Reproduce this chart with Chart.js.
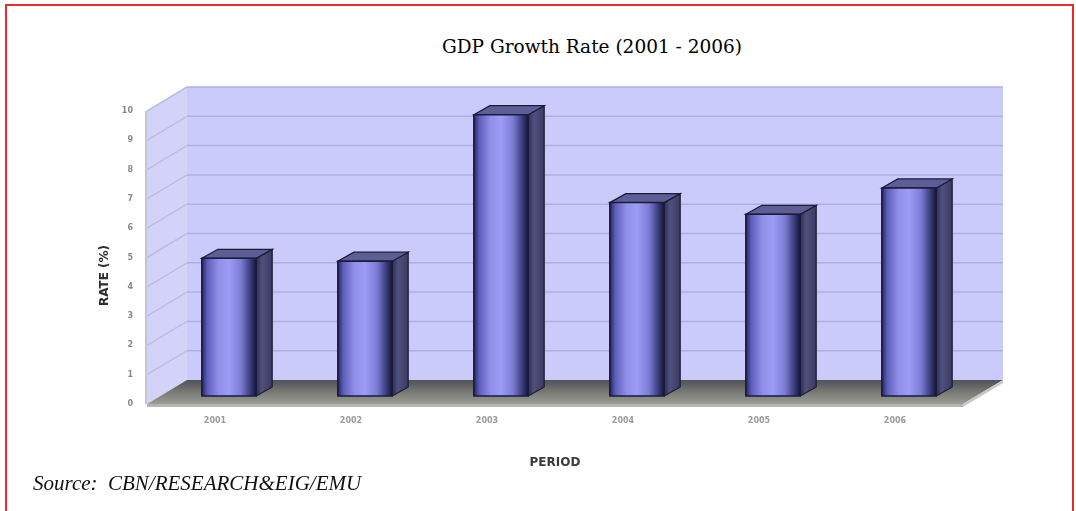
<!DOCTYPE html>
<html lang="en">
<head>
<meta charset="UTF-8">
<title>GDP Growth Rate (2001 - 2006)</title>
<script src="https://cdn.jsdelivr.net/npm/chart.js"></script>
<style>
    body {
        margin: 0;
        background: #fff;
        width: 1076px;
        height: 511px;
        overflow: hidden;
        position: relative;
    }
    .frame {
        position: absolute;
        left: 5px;
        top: 4px;
        width: 1065px;
        height: 620px;
        border: 2px solid #f02a2a;
        border-bottom: none;
    }
    .chart-box {
        position: absolute;
        left: 0;
        top: 0;
        width: 1076px;
        height: 511px;
    }
    h1.chart-title {
        position: absolute;
        left: 342px;
        width: 500px;
        top: 36px;
        margin: 0;
        text-align: center;
        font: normal 18.5px "DejaVu Serif", serif;
        color: #000;
    }
    .source {
        position: absolute;
        left: 33px;
        top: 471px;
        font: italic 21px "Liberation Serif", serif;
        color: #111;
    }
</style>
</head>
<body>
<div class="frame"></div>
<h1 class="chart-title">GDP Growth Rate (2001 - 2006)</h1>
<div class="chart-box"><canvas id="gdp-chart" width="1076" height="511"></canvas></div>
<div class="source">Source:&nbsp; CBN/RESEARCH&amp;EIG/EMU</div>

<script>
    const periods = ['2001', '2002', '2003', '2004', '2005', '2006'];
    const growthRate = [4.7, 4.6, 9.6, 6.6, 6.2, 7.1];
    const rateTicks = [0, 1, 2, 3, 4, 5, 6, 7, 8, 9, 10];

    // depth of the 3D box: back wall offset, bar front offset, bar depth
    const WALL_DX = 40, WALL_DY = -24;
    const BAR_OX = 14, BAR_OY = -8;
    const BAR_DX = 16, BAR_DY = -9;

    function poly(ctx, pts, fill, stroke, lw) {
        ctx.beginPath();
        ctx.moveTo(pts[0][0], pts[0][1]);
        for (let i = 1; i < pts.length; i++) ctx.lineTo(pts[i][0], pts[i][1]);
        ctx.closePath();
        if (fill) { ctx.fillStyle = fill; ctx.fill(); }
        if (stroke) { ctx.strokeStyle = stroke; ctx.lineWidth = lw || 1; ctx.stroke(); }
    }

    const box3d = {
        id: 'box3d',
        beforeDatasetsDraw(chart) {
            const {ctx, chartArea: a, scales: {y}} = chart;
            const y0 = y.getPixelForValue(0);
            const yTop = y.getPixelForValue(10);
            ctx.save();

            // back wall
            poly(ctx, [[a.left + WALL_DX, yTop + WALL_DY], [a.right + WALL_DX, yTop + WALL_DY],
                [a.right + WALL_DX, y0 + WALL_DY], [a.left + WALL_DX, y0 + WALL_DY]], '#cbcbfb');

            // left side wall
            poly(ctx, [[a.left, yTop], [a.left + WALL_DX, yTop + WALL_DY],
                [a.left + WALL_DX, y0 + WALL_DY], [a.left, y0]], '#d3d3fa');

            // grid lines on both walls
            ctx.lineWidth = 1.5;
            rateTicks.forEach(v => {
                if (v === 0) return;
                const py = y.getPixelForValue(v);
                ctx.strokeStyle = '#b0b0e0';
                ctx.beginPath();
                ctx.moveTo(a.left + WALL_DX, py + WALL_DY);
                ctx.lineTo(a.right + WALL_DX, py + WALL_DY);
                ctx.stroke();
                ctx.strokeStyle = '#bcbce6';
                ctx.beginPath();
                ctx.moveTo(a.left, py);
                ctx.lineTo(a.left + WALL_DX, py + WALL_DY);
                ctx.stroke();
            });

            // front edge of the side wall
            ctx.strokeStyle = '#c4c4d4';
            ctx.lineWidth = 2;
            ctx.beginPath();
            ctx.moveTo(a.left - 1, yTop);
            ctx.lineTo(a.left - 1, y0);
            ctx.stroke();

            // floor
            const fg = ctx.createLinearGradient(0, y0 + WALL_DY, 0, y0);
            fg.addColorStop(0, '#505058');
            fg.addColorStop(0.5, '#7a7a74');
            fg.addColorStop(1, '#9c9c98');
            poly(ctx, [[a.left, y0], [a.right, y0], [a.right + WALL_DX, y0 + WALL_DY],
                [a.left + WALL_DX, y0 + WALL_DY]], fg);
            poly(ctx, [[a.left, y0], [a.right, y0], [a.right, y0 + 3], [a.left, y0 + 3]], '#b4b4b0');
            poly(ctx, [[a.right, y0], [a.right + WALL_DX, y0 + WALL_DY],
                [a.right + WALL_DX, y0 + WALL_DY + 3], [a.right, y0 + 3]], '#c8c8c4');
            ctx.restore();
        },
        afterDatasetsDraw(chart) {
            const {ctx} = chart;
            const meta = chart.getDatasetMeta(0);
            ctx.save();
            meta.data.forEach(bar => {
                const {x, y: top, base, width} = bar.getProps(['x', 'y', 'base', 'width'], true);
                const l = x - width / 2 + BAR_OX, r = x + width / 2 + BAR_OX;
                const t = top + BAR_OY, b = base + BAR_OY;

                // side
                const sg = ctx.createLinearGradient(r, 0, r + BAR_DX, 0);
                sg.addColorStop(0, '#2c2c52');
                sg.addColorStop(0.35, '#50507e');
                sg.addColorStop(1, '#3a3a62');
                poly(ctx, [[r, t], [r + BAR_DX, t + BAR_DY], [r + BAR_DX, b + BAR_DY], [r, b]], sg, '#1b1b38', 1.2);

                // top
                poly(ctx, [[l, t], [l + BAR_DX, t + BAR_DY], [r + BAR_DX, t + BAR_DY], [r, t]], '#5e5e96', '#1b1b38', 1.2);

                // front
                const g = ctx.createLinearGradient(l, 0, r, 0);
                g.addColorStop(0, '#25255c');
                g.addColorStop(0.1, '#5d5dbb');
                g.addColorStop(0.3, '#8f8fe8');
                g.addColorStop(0.5, '#9c9cf8');
                g.addColorStop(0.72, '#7c7cd4');
                g.addColorStop(0.85, '#4a4a92');
                g.addColorStop(1, '#15153a');
                poly(ctx, [[l, t], [r, t], [r, b], [l, b]], g, '#1b1b3c', 1.5);
            });
            ctx.restore();
        },
        afterDraw(chart) {
            // rotated value-axis caption, sitting a little below the axis middle
            const {ctx, chartArea: a} = chart;
            ctx.save();
            ctx.translate(105, (a.top + a.bottom) / 2 + 18);
            ctx.rotate(-Math.PI / 2);
            ctx.font = 'bold 12px "DejaVu Sans"';
            ctx.fillStyle = '#2e2e2e';
            ctx.textAlign = 'center';
            ctx.textBaseline = 'middle';
            ctx.fillText('RATE (%)', 0, 0);
            ctx.restore();
        }
    };

    new Chart(document.getElementById('gdp-chart'), {
        type: 'bar',
        data: {
            labels: periods,
            datasets: [{
                label: 'GDP Growth Rate',
                data: growthRate,
                backgroundColor: 'rgba(0,0,0,0)',
                borderWidth: 0,
                barPercentage: 0.4,
                categoryPercentage: 1
            }]
        },
        options: {
            responsive: false,
            animation: false,
            layout: { padding: { left: 90, right: 113, top: 111, bottom: 30 } },
            plugins: {
                legend: { display: false },
                title: { display: false },
                tooltip: { enabled: false }
            },
            scales: {
                x: {
                    grid: { display: false, drawTicks: false },
                    border: { display: false },
                    ticks: { padding: 12, color: '#9a9a9a', font: { family: 'DejaVu Sans', size: 8, weight: 'bold' } },
                    title: {
                        display: true,
                        text: 'PERIOD',
                        color: '#3a3a3a',
                        padding: { top: 0, bottom: 11 },
                        font: { family: 'DejaVu Sans', size: 12, weight: 'bold' }
                    },
                    afterFit(scale) { scale.height = 77; }
                },
                y: {
                    min: 0,
                    max: 10,
                    afterBuildTicks(scale) { scale.ticks = rateTicks.map(v => ({value: v})); },
                    grid: { display: false, drawTicks: false },
                    border: { display: false },
                    ticks: { padding: 14, color: '#8a8a8a', font: { family: 'DejaVu Sans', size: 8, weight: 'bold' } },
                    title: { display: false },
                    afterFit(scale) { scale.width = 57; }
                }
            }
        },
        plugins: [box3d]
    });
</script>
</body>
</html>
